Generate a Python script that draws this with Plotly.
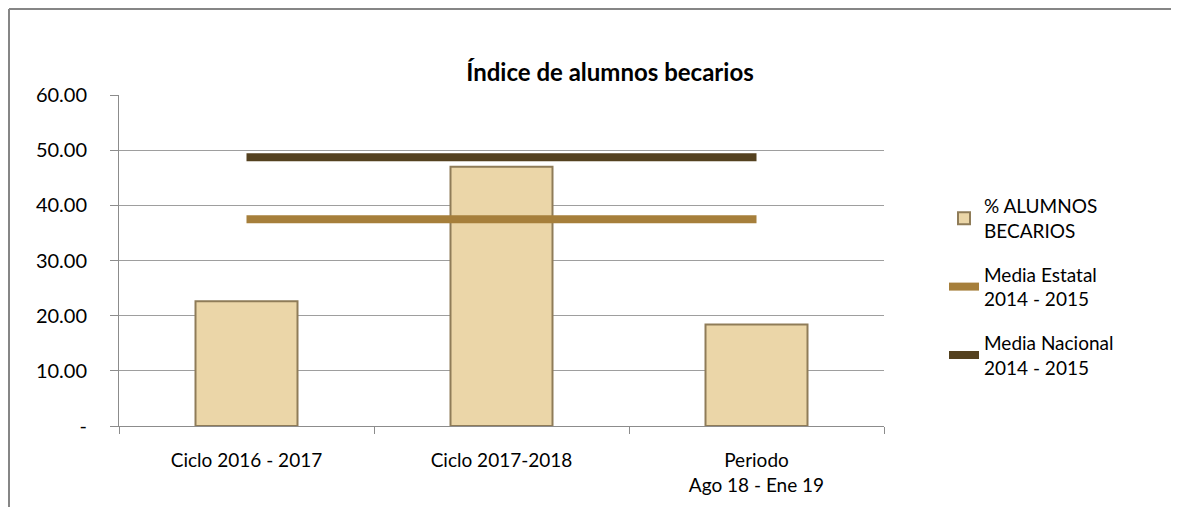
import plotly.graph_objects as go

categories = ["Ciclo 2016 - 2017", "Ciclo 2017-2018", "Periodo<br>Ago 18 - Ene 19"]
pct_becarios = [22.6, 47.0, 18.4]
media_estatal = [37.5, 37.5, 37.5]
media_nacional = [48.7, 48.7, 48.7]
y_tickvals = [0, 10, 20, 30, 40, 50, 60]
y_ticktext = ["-", "10.00", "20.00", "30.00", "40.00", "50.00", "60.00"]

FONT = "Lato, 'Open Sans', sans-serif"

# page has an 8px body margin, so the figure is drawn smaller to avoid scrolling
OFF = 8
W, H = 1179 - 2 * OFF, 515 - 2 * OFF
L, R, T, B = 111, 287, 87, 81
pw, ph = W - L - R, H - T - B


def px_x(p):
    # p is a screen pixel
    return (p - OFF - L) / pw


def px_y(p):
    return (H - B - (p - OFF)) / ph


fig = go.Figure()
fig.add_trace(go.Bar(
    x=categories, y=pct_becarios, name="% ALUMNOS<br>BECARIOS", legendgroup="a",
    marker={"color": "#EBD6A8", "line": {"color": "#8F7C58", "width": 2}},
))
fig.add_trace(go.Scatter(
    x=categories, y=media_estatal, mode="lines", name="Media Estatal<br>2014 - 2015",
    legendgroup="b", line={"color": "#A67F3B", "width": 8},
))
fig.add_trace(go.Scatter(
    x=categories, y=media_nacional, mode="lines", name="Media Nacional<br>2014 - 2015",
    legendgroup="c", line={"color": "#54411F", "width": 8},
))

# chart frame: only the left and top edges fall inside the picture
frame = {"color": "#868686", "width": 2}
fig.update_layout(
    width=W, height=H,
    margin={"l": L, "r": R, "t": T, "b": B},
    paper_bgcolor="white", plot_bgcolor="white",
    font={"family": FONT, "size": 19, "color": "#000000"},
    title={"text": "<b>Índice de alumnos becarios</b>", "x": px_x(610), "xref": "paper",
           "xanchor": "center", "y": 1 - (73 - OFF) / H, "yanchor": "middle",
           "font": {"size": 24, "family": FONT}},
    bargap=0.6,
    showlegend=True,
    legend={"x": px_x(944), "y": px_y(187), "xanchor": "left", "yanchor": "top",
            "font": {"size": 19}, "traceorder": "grouped", "tracegroupgap": 16,
            "bgcolor": "rgba(0,0,0,0)"},
    shapes=[
        {"type": "line", "xref": "paper", "yref": "paper",
         "x0": px_x(OFF + 1), "x1": px_x(OFF + 1), "y0": px_y(600), "y1": px_y(OFF + 1),
         "line": frame, "layer": "below"},
        {"type": "line", "xref": "paper", "yref": "paper",
         "x0": px_x(OFF + 1), "x1": px_x(1250), "y0": px_y(OFF + 1), "y1": px_y(OFF + 1),
         "line": frame, "layer": "below"},
    ],
)
fig.update_xaxes(
    type="category", showline=True, linecolor="#8C8C8C", linewidth=1,
    ticks="outside", tickson="boundaries", ticklen=7, tickcolor="#8C8C8C",
    showgrid=False, tickfont={"size": 19}, ticklabelstandoff=17,
)
fig.update_yaxes(
    range=[0, 60], tickvals=y_tickvals, ticktext=y_ticktext,
    showline=True, linecolor="#8C8C8C", linewidth=1,
    ticks="outside", ticklen=8, tickcolor="#8C8C8C",
    showgrid=True, gridcolor="#9E9E9E", gridwidth=1,
    zeroline=False, tickfont={"size": 20}, ticklabelstandoff=19,
)

fig.write_html("out.html")
